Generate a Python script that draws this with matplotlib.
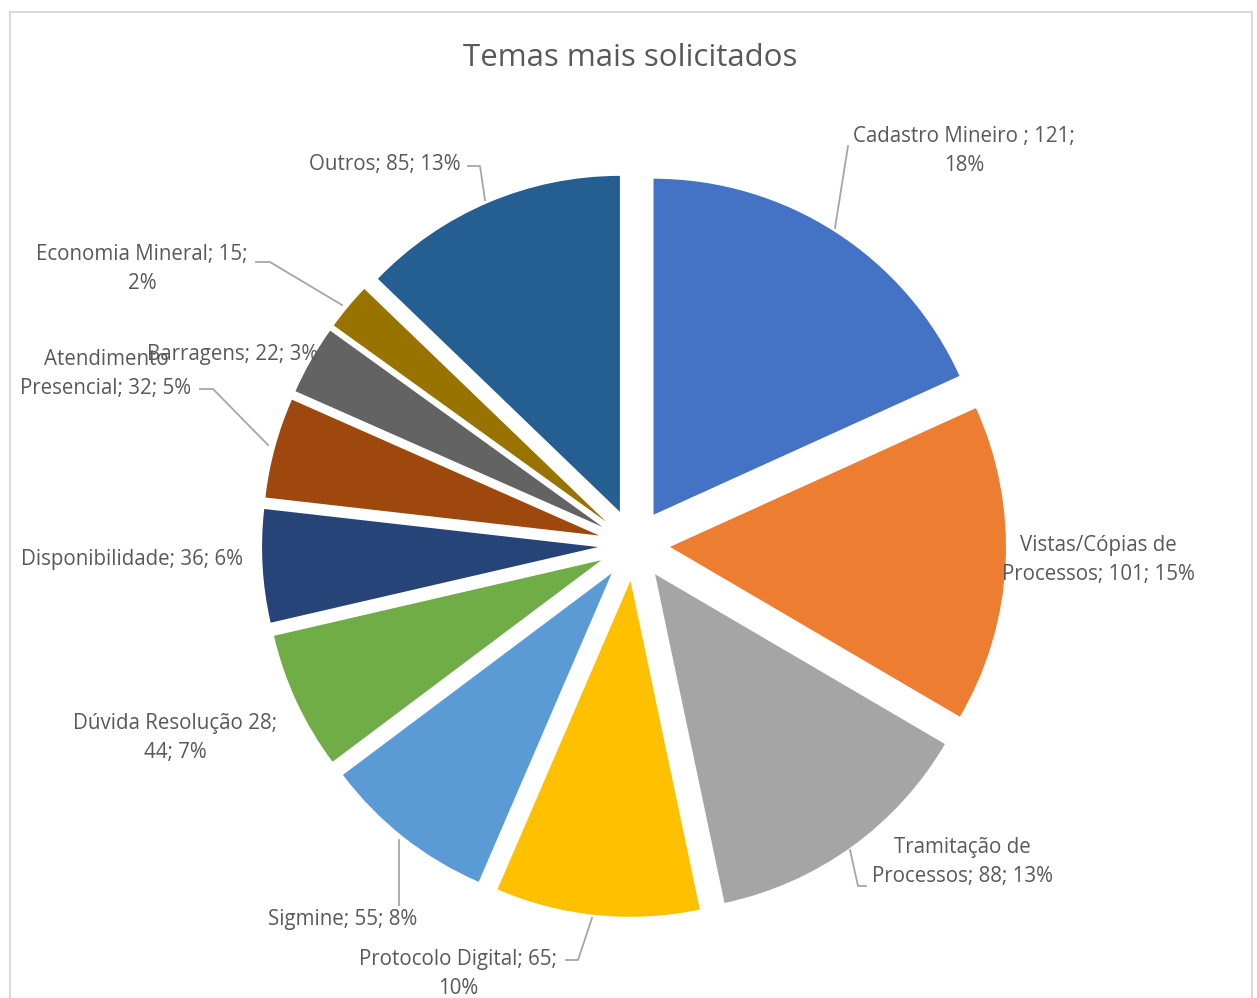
import matplotlib
matplotlib.use("Agg")
import matplotlib.pyplot as plt
from matplotlib.patches import Rectangle

# Request topics and counts
categories = [
    "Cadastro Mineiro ", "Vistas/Cópias de Processos", "Tramitação de Processos",
    "Protocolo Digital", "Sigmine", "Dúvida Resolução 28", "Disponibilidade",
    "Atendimento Presencial", "Barragens", "Economia Mineral", "Outros",
]
values = [121, 101, 88, 65, 55, 44, 36, 32, 22, 15, 85]
percent_labels = ["18%", "15%", "13%", "10%", "8%", "7%", "6%", "5%", "3%", "2%", "13%"]
colors = [
    "#4472C4", "#ED7D31", "#A5A5A5", "#FFC000", "#5B9BD5", "#70AD47",
    "#264478", "#9E480E", "#636363", "#997300", "#255E91",
]

# Label text blocks (line breaks as laid out on the chart)
label_texts = [
    "Cadastro Mineiro ; 121;\n18%",
    "Vistas/Cópias de\nProcessos; 101; 15%",
    "Tramitação de\nProcessos; 88; 13%",
    "Protocolo Digital; 65;\n10%",
    "Sigmine; 55; 8%",
    "Dúvida Resolução 28;\n44; 7%",
    "Disponibilidade; 36; 6%",
    "Atendimento\nPresencial; 32; 5%",
    "Barragens; 22; 3%",
    "Economia Mineral; 15;\n2%",
    "Outros; 85; 13%",
]

W, H = 1257, 998
fig = plt.figure(figsize=(W / 100, H / 100), dpi=100)
ax = fig.add_axes([0, 0, 1, 1])

def py(y):
    # convert a top-down pixel row to axis y
    return H - y

TEXT = "#595959"
LINE = "#A6A6A6"
FONT = "Open Sans"

center = (634, py(545))
radius = 336
ax.pie(values, colors=colors, startangle=90, counterclock=False,
       explode=[36] * len(values), center=center, radius=radius,
       wedgeprops=dict(linewidth=0), frame=True)
ax.set_xlim(0, W)
ax.set_ylim(0, H)
ax.set_aspect("equal")
ax.axis("off")

# Chart frame
ax.add_patch(Rectangle((10, py(1010)), 1242, 998, fill=False, edgecolor="#D9D9D9", lw=1.5))

ax.text(630, py(58), "Temas mais solicitados", ha="center", va="center",
        fontsize=22.5, color=TEXT, family=FONT)

# Label placements (pixel coordinates of each text block centre)
label_pos = [
    (964, 151), (1098, 560), (962, 862), (458, 974), (343, 919), (175, 738),
    (132, 560), (106, 374), (233, 354), (142, 269), (385, 164),
]
for txt, (x, y) in zip(label_texts, label_pos):
    ax.text(x, py(y), txt, ha="center", va="center", fontsize=14.8,
            color=TEXT, family=FONT, linespacing=1.5)

# Leader lines
leaders = [
    [(848, 146), (835, 228)],
    [(866, 886), (858, 886), (850, 850)],
    [(566, 960), (578, 960), (592, 918)],
    [(399, 905), (399, 840)],
    [(200, 389), (213, 389), (268, 445)],
    [(256, 262), (270, 262), (342, 305)],
    [(468, 166), (480, 166), (485, 200)],
]
for pts in leaders:
    xs = [p[0] for p in pts]
    ys = [py(p[1]) for p in pts]
    ax.plot(xs, ys, color=LINE, lw=1.3)

fig.savefig("out.png", dpi=100, facecolor="white")
